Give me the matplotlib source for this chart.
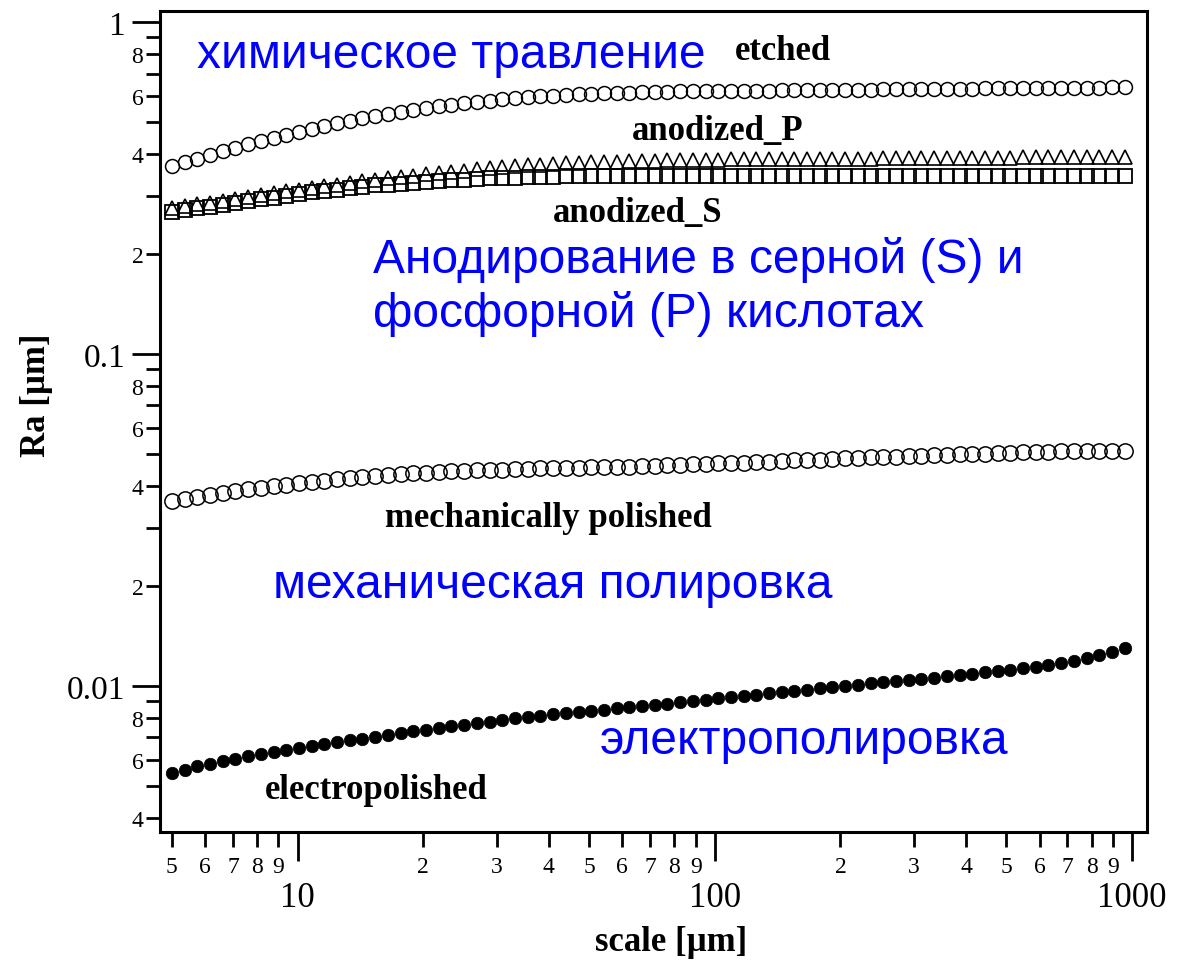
import numpy as np
import matplotlib
matplotlib.use("Agg")
import matplotlib.pyplot as plt
from matplotlib.ticker import LogLocator, FuncFormatter

# ==============================================================
# DATA
# ==============================================================
scale_um = [
    5.00, 5.36, 5.75, 6.17, 6.62, 7.10, 7.61, 8.17, 8.76, 9.40,
    10.08, 10.81, 11.60, 12.44, 13.34, 14.31, 15.35, 16.47, 17.66, 18.94,
    20.32, 21.80, 23.38, 25.08, 26.90, 28.86, 30.95, 33.20, 35.61, 38.20,
    40.97, 43.95, 47.14, 50.56, 54.23, 58.18, 62.40, 66.93, 71.80, 77.01,
    82.60, 88.60, 95.03, 101.9, 109.3, 117.2, 125.8, 134.9, 144.7, 155.2,
    166.4, 178.5, 191.4, 205.4, 220.3, 236.3, 253.4, 271.8, 291.6, 312.7,
    335.5, 359.8, 385.9, 414.0, 444.0, 476.3, 510.9, 548.0, 587.7, 630.3,
    676.1, 725.2, 777.9, 834.4, 894.9, 959.9,
]

ra_etched = [
    0.368, 0.378, 0.388, 0.398, 0.408, 0.418, 0.428, 0.438, 0.448, 0.458,
    0.468, 0.478, 0.487, 0.496, 0.505, 0.514, 0.522, 0.530, 0.537, 0.544,
    0.551, 0.557, 0.563, 0.569, 0.575, 0.580, 0.585, 0.589, 0.593, 0.597,
    0.600, 0.603, 0.606, 0.608, 0.610, 0.612, 0.613, 0.615, 0.616, 0.617,
    0.618, 0.619, 0.620, 0.620, 0.621, 0.621, 0.622, 0.622, 0.623, 0.623,
    0.624, 0.624, 0.625, 0.625, 0.626, 0.626, 0.627, 0.627, 0.628, 0.628,
    0.629, 0.629, 0.630, 0.630, 0.631, 0.631, 0.632, 0.632, 0.633, 0.633,
    0.634, 0.634, 0.635, 0.635, 0.636, 0.637,
]

ra_anodized_p = [
    0.276, 0.279, 0.283, 0.286, 0.290, 0.293, 0.297, 0.301, 0.305, 0.309,
    0.313, 0.317, 0.321, 0.324, 0.328, 0.332, 0.335, 0.339, 0.342, 0.345,
    0.348, 0.351, 0.354, 0.357, 0.360, 0.363, 0.365, 0.368, 0.370, 0.372,
    0.373, 0.375, 0.376, 0.378, 0.379, 0.380, 0.381, 0.382, 0.382, 0.383,
    0.384, 0.384, 0.385, 0.385, 0.386, 0.386, 0.386, 0.386, 0.387, 0.387,
    0.387, 0.387, 0.388, 0.388, 0.388, 0.388, 0.389, 0.389, 0.389, 0.389,
    0.389, 0.390, 0.390, 0.390, 0.390, 0.390, 0.390, 0.391, 0.391, 0.391,
    0.391, 0.391, 0.391, 0.391, 0.391, 0.391,
]

ra_anodized_s = [
    0.268, 0.271, 0.275, 0.278, 0.282, 0.285, 0.289, 0.293, 0.296, 0.300,
    0.304, 0.307, 0.310, 0.313, 0.316, 0.319, 0.322, 0.324, 0.326, 0.328,
    0.330, 0.332, 0.334, 0.335, 0.337, 0.338, 0.339, 0.340, 0.341, 0.342,
    0.342, 0.343, 0.343, 0.343, 0.343, 0.343, 0.343, 0.343, 0.343, 0.343,
    0.343, 0.343, 0.343, 0.343, 0.343, 0.343, 0.343, 0.343, 0.343, 0.343,
    0.343, 0.343, 0.343, 0.343, 0.343, 0.343, 0.344, 0.344, 0.344, 0.344,
    0.344, 0.344, 0.344, 0.344, 0.344, 0.344, 0.344, 0.344, 0.344, 0.344,
    0.344, 0.344, 0.344, 0.344, 0.344, 0.344,
]

ra_mech = [
    0.0360, 0.0366, 0.0372, 0.0377, 0.0382, 0.0387, 0.0392, 0.0396, 0.0400, 0.0404,
    0.0408, 0.0412, 0.0415, 0.0419, 0.0422, 0.0425, 0.0428, 0.0432, 0.0435, 0.0437,
    0.0439, 0.0441, 0.0443, 0.0444, 0.0446, 0.0447, 0.0448, 0.0450, 0.0451, 0.0452,
    0.0453, 0.0454, 0.0455, 0.0456, 0.0457, 0.0457, 0.0458, 0.0459, 0.0460, 0.0462,
    0.0463, 0.0465, 0.0466, 0.0468, 0.0470, 0.0471, 0.0473, 0.0474, 0.0476, 0.0478,
    0.0479, 0.0481, 0.0483, 0.0485, 0.0486, 0.0488, 0.0490, 0.0491, 0.0493, 0.0494,
    0.0496, 0.0497, 0.0499, 0.0500, 0.0501, 0.0503, 0.0504, 0.0506, 0.0507, 0.0508,
    0.0509, 0.0509, 0.0510, 0.0511, 0.0511, 0.0512,
]

ra_electro = [
    0.00547, 0.00560, 0.00572, 0.00583, 0.00594, 0.00604, 0.00614, 0.00623, 0.00632, 0.00641,
    0.00650, 0.00659, 0.00668, 0.00676, 0.00685, 0.00694, 0.00703, 0.00712, 0.00721, 0.00729,
    0.00738, 0.00746, 0.00755, 0.00763, 0.00772, 0.00781, 0.00790, 0.00798, 0.00807, 0.00814,
    0.00821, 0.00828, 0.00835, 0.00842, 0.00849, 0.00856, 0.00863, 0.00870, 0.00877, 0.00885,
    0.00893, 0.00901, 0.00909, 0.00917, 0.00926, 0.00934, 0.00942, 0.00950, 0.00959, 0.00967,
    0.00975, 0.00984, 0.00992, 0.01000, 0.01009, 0.01017, 0.01025, 0.01034, 0.01042, 0.01051,
    0.01060, 0.01069, 0.01079, 0.01089, 0.01099, 0.01109, 0.01119, 0.01129, 0.01140, 0.01155,
    0.01172, 0.01192, 0.01214, 0.01238, 0.01265, 0.01300,
]

SERIF = "Liberation Serif"
SANS = "Liberation Sans"
BLUE = "#0000ff"

# ==============================================================
# FIGURE
# ==============================================================
fig = plt.figure(figsize=(11.83, 9.62), dpi=100)
ax = fig.add_axes([0.1352, 0.1341, 0.8344, 0.8534])

ax.plot(scale_um, ra_etched, ls="none", marker="o", ms=10, mfc="none",
        mec="black", mew=1.1)
ax.plot(scale_um, ra_anodized_p, ls="none", marker="^", ms=10.5, mfc="none",
        mec="black", mew=1.2)
ax.plot(scale_um, ra_anodized_s, ls="none", marker="s", ms=9.5, mfc="none",
        mec="black", mew=1.3)
ax.plot(scale_um, ra_mech, ls="none", marker="o", ms=11, mfc="none",
        mec="black", mew=1.1)
ax.plot(scale_um, ra_electro, ls="none", marker="o", ms=9, mfc="black",
        mec="black", mew=0.5)

ax.set_xscale("log")
ax.set_yscale("log")
ax.set_xlim(4.68, 1086)
ax.set_ylim(0.00363, 1.08)

for sp in ax.spines.values():
    sp.set_linewidth(2.2)

ax.xaxis.set_major_locator(LogLocator(base=10, numticks=10))
ax.xaxis.set_minor_locator(LogLocator(base=10, subs=np.arange(2, 10), numticks=20))
ax.yaxis.set_major_locator(LogLocator(base=10, numticks=10))
ax.yaxis.set_minor_locator(LogLocator(base=10, subs=np.arange(2, 10), numticks=20))


def major_fmt(v, pos):
    return f"{v:g}"


def mantissa(v):
    return int(round(v / 10 ** np.floor(np.log10(v) + 1e-9)))


def x_minor_fmt(v, pos):
    return str(mantissa(v))


def y_minor_fmt(v, pos):
    m = mantissa(v)
    return str(m) if m in (2, 4, 6, 8) else ""


ax.xaxis.set_major_formatter(FuncFormatter(major_fmt))
ax.xaxis.set_minor_formatter(FuncFormatter(x_minor_fmt))
ax.yaxis.set_major_formatter(FuncFormatter(major_fmt))
ax.yaxis.set_minor_formatter(FuncFormatter(y_minor_fmt))

ax.tick_params(axis="x", which="major", direction="out", length=21, width=2,
               pad=14, labelsize=25)
ax.tick_params(axis="x", which="minor", direction="out", length=11, width=2,
               pad=6, labelsize=17)
ax.tick_params(axis="y", which="major", direction="out", length=20, width=2,
               pad=5, labelsize=24)
ax.tick_params(axis="y", which="minor", direction="out", length=10, width=2,
               pad=2, labelsize=17)
for lab in ax.get_xticklabels(which="both") + ax.get_yticklabels(which="both"):
    lab.set_family(SERIF)

ax.set_xlabel("scale [µm]", fontsize=25, family=SERIF, weight="bold")
ax.set_ylabel("Ra [µm]", fontsize=25, family=SERIF, weight="bold")
ax.xaxis.set_label_coords(0.518, -0.113)
ax.yaxis.set_label_coords(-0.108, 0.533)

# ----------- series names (English, serif) ----------- #
def px_text(x_px, y_px, s, **kw):
    # position given as pixel of the 1183x962 picture, mapped to axes fraction
    xa = (x_px - 160) / 987.0
    ya = (833 - y_px) / 821.0
    ax.text(xa, ya, s, transform=ax.transAxes, va="baseline", ha="left", **kw)


px_text(735, 60, "etched", fontsize=25, family=SERIF, weight="bold")
px_text(632, 140, "anodized_P", fontsize=25, family=SERIF, weight="bold")
px_text(553, 222, "anodized_S", fontsize=25, family=SERIF, weight="bold")
px_text(385, 527, "mechanically polished", fontsize=25, family=SERIF, weight="bold")
px_text(265, 799, "electropolished", fontsize=25, family=SERIF, weight="bold")

# ----------- Russian captions (blue) ----------- #
px_text(197, 68, "химическое травление", fontsize=34.5, family=SANS, color=BLUE)
px_text(373, 273, "Анодирование в серной (S) и", fontsize=34.5, family=SANS, color=BLUE)
px_text(373, 327, "фосфорной (P) кислотах", fontsize=34.5, family=SANS, color=BLUE)
px_text(273, 598, "механическая полировка", fontsize=34.5, family=SANS, color=BLUE)
px_text(600, 754, "электрополировка", fontsize=34.5, family=SANS, color=BLUE)

plt.savefig("out.png", dpi=100)
